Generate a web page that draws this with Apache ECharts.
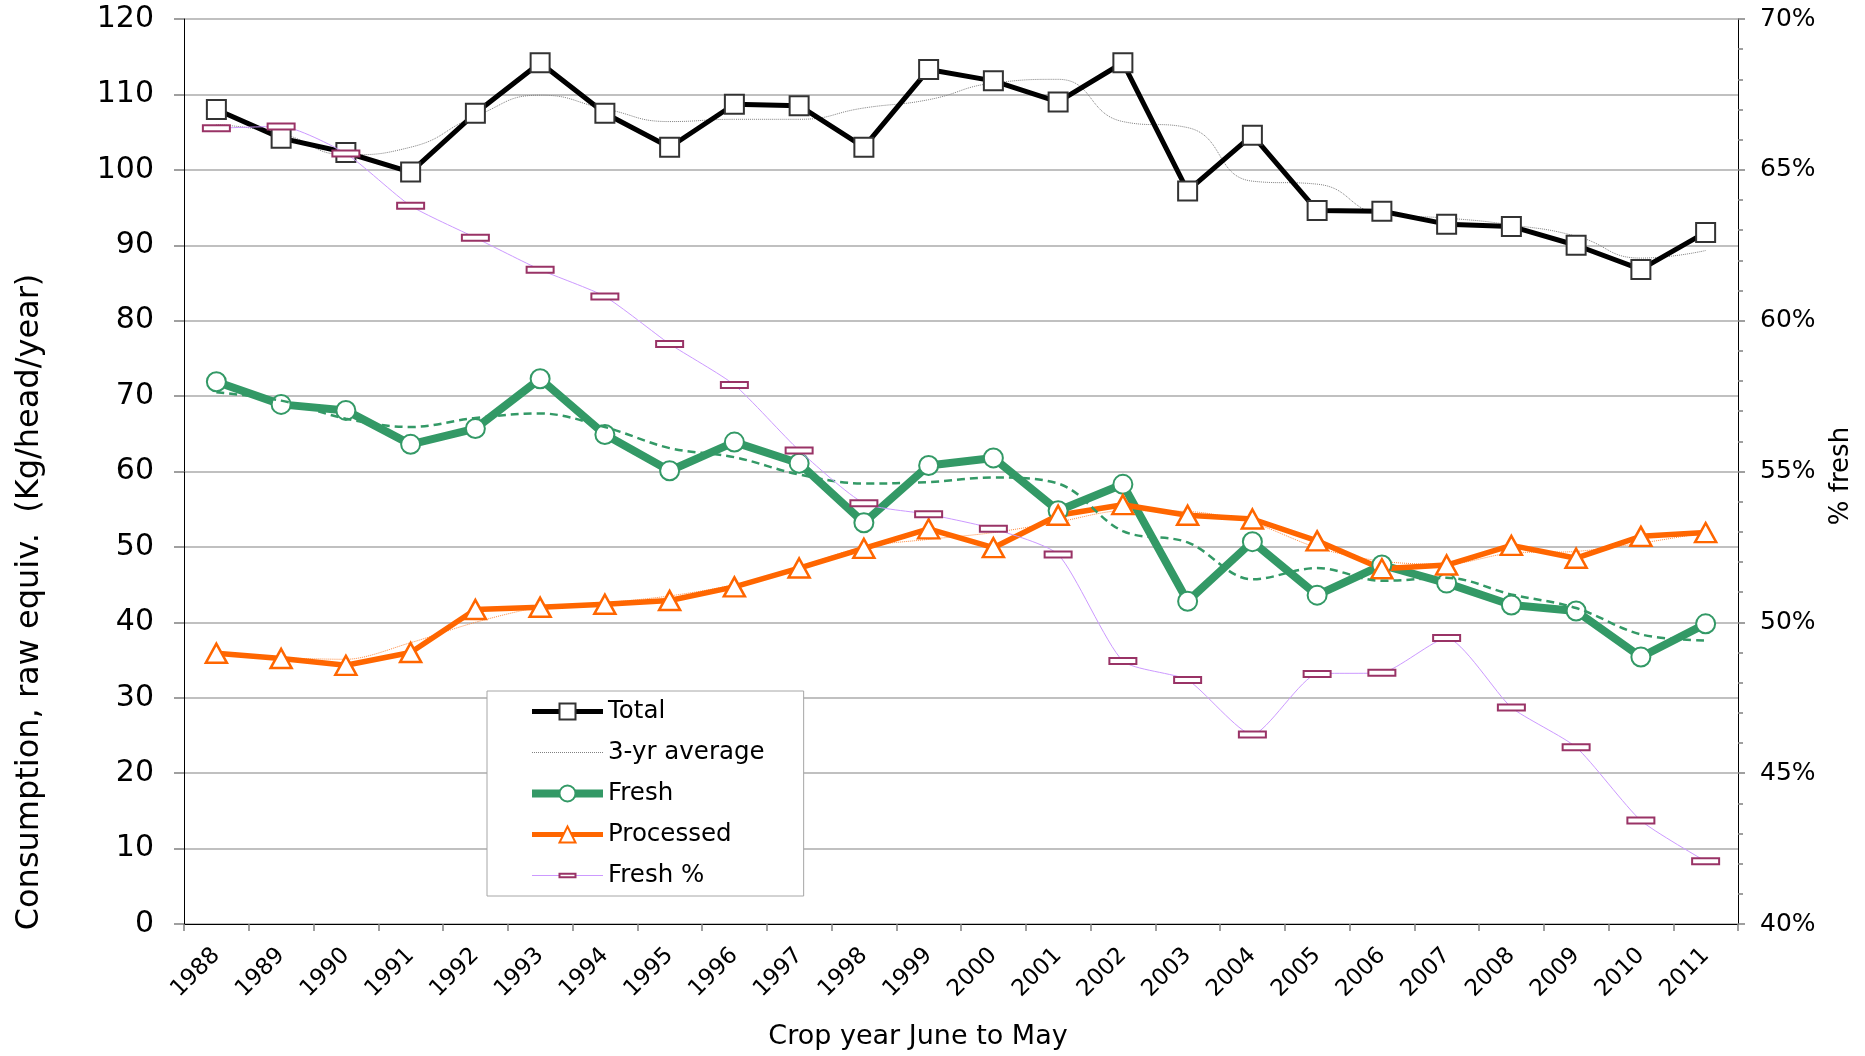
<!DOCTYPE html>
<html>
<head>
<meta charset="utf-8">
<script src="https://cdn.jsdelivr.net/npm/echarts@6/dist/echarts.min.js"></script>
<style>
  html, body { margin: 0; padding: 0; background: #fff; }
  #chart { width: 1865px; height: 1056px; }
</style>
</head>
<body>
<div id="chart"></div>
<script>
// ---- Data ----
const years = ['1988','1989','1990','1991','1992','1993','1994','1995','1996','1997','1998','1999',
               '2000','2001','2002','2003','2004','2005','2006','2007','2008','2009','2010','2011'];

const total = [108.0, 104.2, 102.3, 99.7, 107.5, 114.2, 107.5, 103.0, 108.7, 108.5, 103.0, 113.3,
               111.8, 109.0, 114.2, 97.2, 104.6, 94.6, 94.5, 92.8, 92.5, 90.0, 86.8, 91.7];

const totalAvg = [106.0, 104.8, 102.0, 103.0, 107.1, 109.9, 108.1, 106.4, 106.7, 106.7, 108.2, 109.3,
                  111.5, 112.0, 106.4, 105.6, 98.5, 98.1, 94.1, 93.6, 92.7, 91.2, 88.3, 89.3];

const fresh = [71.9, 68.9, 68.1, 63.6, 65.7, 72.3, 64.9, 60.1, 63.9, 61.1, 53.2, 60.8,
               61.8, 54.8, 58.3, 42.8, 50.7, 43.6, 47.6, 45.2, 42.3, 41.5, 35.4, 39.8];

const freshAvg = [70.5, 69.4, 67.0, 65.9, 67.1, 67.7, 65.9, 63.1, 61.9, 59.6, 58.4, 58.6,
                  59.2, 58.4, 52.1, 50.6, 45.7, 47.2, 45.5, 45.9, 43.7, 41.9, 38.4, 37.6];

const processed = [35.9, 35.2, 34.3, 36.0, 41.7, 42.0, 42.4, 42.9, 44.7, 47.2, 49.8, 52.4,
                   49.9, 54.2, 55.6, 54.2, 53.7, 50.8, 47.1, 47.6, 50.2, 48.5, 51.4, 51.9];

const processedAvg = [35.7, 35.3, 35.1, 37.3, 40.0, 42.0, 42.6, 43.5, 45.0, 47.4, 50.0, 51.0,
                      51.9, 53.3, 54.8, 54.7, 53.2, 49.9, 48.1, 47.7, 49.2, 49.4, 50.5, 51.9];

const freshPct = [66.38, 66.44, 65.54, 63.81, 62.75, 61.69, 60.80, 59.23, 57.87, 55.70, 53.95, 53.58,
                  53.10, 52.25, 48.72, 48.09, 46.28, 48.29, 48.33, 49.48, 47.18, 45.86, 43.43, 42.08];

const legendNames = ['Total', '3-yr average', 'Fresh', 'Processed', 'Fresh %'];
const xTitle = 'Crop year June to May';
const yTitle = 'Consumption, raw equiv.  (Kg/head/year)';
const y2Title = '% fresh';

// ---- Chart ----
const FONT = 'DejaVu Sans';
const chart = echarts.init(document.getElementById('chart'), null, { renderer: 'canvas' });

const flatRect = 'path://M0,0 M27,27 M0,10.5 L27,10.5 L27,16.5 L0,16.5 Z';

const option = {
  animation: false,
  backgroundColor: '#fff',
  grid: { left: 184, right: 127, top: 19, bottom: 132, containLabel: false },
  xAxis: {
    type: 'category',
    data: years,
    boundaryGap: true,
    axisLine: { lineStyle: { color: '#000', width: 1 } },
    axisTick: { show: true, alignWithLabel: false, length: 7, lineStyle: { color: '#808080', width: 1.5 } },
    axisLabel: { rotate: 45, margin: 28, color: '#000', fontFamily: FONT, fontSize: 23, interval: 0 },
    splitLine: { show: false }
  },
  yAxis: [
    {
      type: 'value', min: 0, max: 120, interval: 10,
      axisLine: { show: true, lineStyle: { color: '#000', width: 1 } },
      axisTick: { show: true, length: 10, lineStyle: { color: '#808080', width: 1.5 } },
      axisLabel: { margin: 30, color: '#000', fontFamily: FONT, fontSize: 30 },
      splitLine: { show: true, lineStyle: { color: '#c0c0c0', width: 2 } }
    },
    {
      type: 'value', min: 40, max: 70, interval: 5, position: 'right',
      axisLine: { show: true, lineStyle: { color: '#000', width: 1 } },
      axisTick: { show: true, length: 7, lineStyle: { color: '#808080', width: 1.5 } },
      minorTick: { show: true, splitNumber: 5, length: 5, lineStyle: { color: '#808080', width: 1.5 } },
      axisLabel: { margin: 22, color: '#000', fontFamily: FONT, fontSize: 25, formatter: '{value}%' },
      splitLine: { show: false }
    }
  ],
  legend: {
    orient: 'vertical',
    left: 487, top: 691,
    padding: [8, 39, 8, 41],
    itemWidth: 71, itemHeight: 20, itemGap: 16,
    backgroundColor: '#fff',
    borderColor: '#a6a6a6', borderWidth: 1,
    textStyle: { fontFamily: FONT, fontSize: 24.5, color: '#000', lineHeight: 24 },
    data: [
      { name: legendNames[0], lineStyle: { width: 5 } },
      { name: legendNames[1], lineStyle: { width: 1 } },
      { name: legendNames[2], lineStyle: { width: 8 } },
      { name: legendNames[3], lineStyle: { width: 5 } },
      { name: legendNames[4], lineStyle: { width: 1 } }
    ]
  },
  series: [
    {
      name: legendNames[0], type: 'line', data: total,
      symbol: 'rect', symbolSize: 19,
      lineStyle: { color: '#000', width: 5 },
      itemStyle: { color: '#fff', borderColor: '#333', borderWidth: 2 },
      z: 3
    },
    {
      name: legendNames[1], type: 'line', data: totalAvg,
      symbol: 'circle', symbolSize: 0, showSymbol: false, smooth: 0.5,
      lineStyle: { color: '#808080', width: 1, type: 'dotted' },
      itemStyle: { color: 'rgba(0,0,0,0)', borderWidth: 0 },
      z: 2
    },
    {
      name: legendNames[2], type: 'line', data: fresh,
      symbol: 'circle', symbolSize: 19,
      lineStyle: { color: '#339966', width: 8 },
      itemStyle: { color: '#fff', borderColor: '#339966', borderWidth: 2 },
      z: 3
    },
    {
      name: legendNames[1], type: 'line', data: freshAvg,
      symbol: 'circle', symbolSize: 0, showSymbol: false, smooth: 0.35,
      lineStyle: { color: '#339966', width: 2.5, type: [8, 5] },
      itemStyle: { color: 'rgba(0,0,0,0)', borderWidth: 0 },
      z: 4
    },
    {
      name: legendNames[3], type: 'line', data: processed,
      symbol: 'triangle', symbolSize: [21, 19],
      lineStyle: { color: '#ff6600', width: 5.5 },
      itemStyle: { color: '#fff', borderColor: '#ff6600', borderWidth: 2.5 },
      z: 3
    },
    {
      name: legendNames[1], type: 'line', data: processedAvg,
      symbol: 'circle', symbolSize: 0, showSymbol: false, smooth: 0.3,
      lineStyle: { color: '#ff8a3d', width: 1, type: 'dotted' },
      itemStyle: { color: 'rgba(0,0,0,0)', borderWidth: 0 },
      z: 2
    },
    {
      name: legendNames[4], type: 'line', data: freshPct, yAxisIndex: 1,
      symbol: flatRect, symbolSize: 27, smooth: 0.2,
      lineStyle: { color: '#cc99ff', width: 1 },
      itemStyle: { color: '#fff', borderColor: '#993366', borderWidth: 2 },
      z: 5
    }
  ],
  graphic: [
    {
      type: 'text', x: 918, y: 1037,
      style: { text: xTitle, fill: '#000', font: '27px "DejaVu Sans"', align: 'center', verticalAlign: 'middle' }
    },
    {
      type: 'text', x: 30, y: 602, rotation: Math.PI / 2,
      style: { text: yTitle, fill: '#000', font: '32px "DejaVu Sans"', align: 'center', verticalAlign: 'middle' }
    },
    {
      type: 'text', x: 1841, y: 476, rotation: Math.PI / 2,
      style: { text: y2Title, fill: '#000', font: '26px "DejaVu Sans"', align: 'center', verticalAlign: 'middle' }
    }
  ]
};

chart.setOption(option);
</script>
</body>
</html>
